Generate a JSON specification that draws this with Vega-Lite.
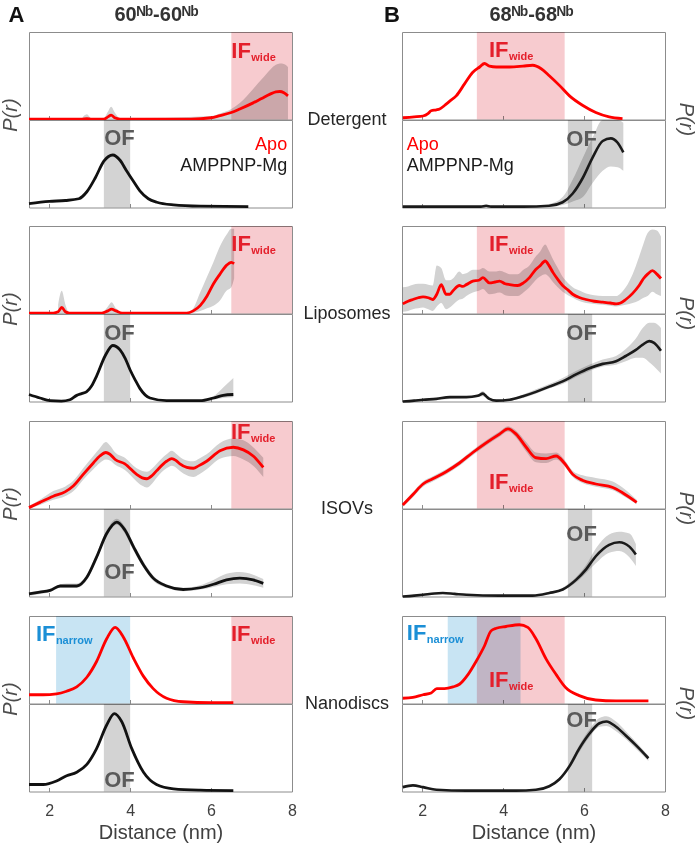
{
"$schema":"https://vega.github.io/schema/vega-lite/v6.json",
"background":"white",
"padding":{"left":0,"top":3,"right":0,"bottom":0},
"config":{
 "font":"Liberation Sans",
 "view":{"stroke":"#8c8c8c","strokeWidth":1},
 "axisY":{"disable":true},
 "axisX":{"labels":false,"domain":false,"grid":false,"tickSize":-4,"tickColor":"#8c8c8c","tickCount":3,"labelFlush":false,"labelFontSize":16,"labelColor":"#404040","titleFontSize":20,"titleColor":"#404040","titleFontWeight":"normal","labelPadding":15,"titlePadding":4},
 "style":{
  "big":{"fontSize":22,"fontWeight":"bold","align":"left","baseline":"middle"},
  "sub":{"fontSize":11,"fontWeight":"bold","align":"left","baseline":"middle","dx":20,"dy":7},
  "env":{"fontSize":18,"align":"center","baseline":"middle","color":"#262626"},
  "pr":{"fontSize":20,"fontStyle":"italic","align":"center","baseline":"middle","color":"#4d4d4d"},
  "hdr":{"fontSize":20,"fontWeight":"bold","align":"center","baseline":"middle","color":"#333333"},
  "hdrA":{"fontSize":22,"fontWeight":"bold","align":"center","baseline":"middle","color":"#111111"},
  "leg":{"fontSize":18,"baseline":"middle"}
 }
},
"data":{"name":"d"},
"datasets":{"d":[
{"p":"A1a","k":"b","x":6.5,"x2":8,"g":"IFw"},
{"p":"A1a","k":"t","x":6.5,"y":0.78,"g":"IFw","t":"IF","s":"wide"},
{"p":"A1a","k":"c","x":1.5,"y":0.005},
{"p":"A1a","k":"c","x":2.0,"y":0.005},
{"p":"A1a","k":"c","x":2.8,"y":0.005,"lo":0,"hi":0.01},
{"p":"A1a","k":"c","x":2.93,"y":0.01,"lo":0,"hi":0.06},
{"p":"A1a","k":"c","x":3.05,"y":0.005,"lo":0,"hi":0.01},
{"p":"A1a","k":"c","x":3.35,"y":0.005,"lo":0,"hi":0.02},
{"p":"A1a","k":"c","x":3.45,"y":0.03,"lo":0,"hi":0.09},
{"p":"A1a","k":"c","x":3.53,"y":0.05,"lo":0,"hi":0.145},
{"p":"A1a","k":"c","x":3.62,"y":0.02,"lo":0,"hi":0.08},
{"p":"A1a","k":"c","x":3.75,"y":0.005,"lo":0,"hi":0.015},
{"p":"A1a","k":"c","x":4.5,"y":0.005},
{"p":"A1a","k":"c","x":5.5,"y":0.005},
{"p":"A1a","k":"c","x":6.0,"y":0.02,"lo":0,"hi":0.04},
{"p":"A1a","k":"c","x":6.22,"y":0.045,"lo":0,"hi":0.07},
{"p":"A1a","k":"c","x":6.5,"y":0.08,"lo":0,"hi":0.12},
{"p":"A1a","k":"c","x":6.71,"y":0.12,"lo":0,"hi":0.19},
{"p":"A1a","k":"c","x":7.04,"y":0.19,"lo":0,"hi":0.35},
{"p":"A1a","k":"c","x":7.25,"y":0.24,"lo":0,"hi":0.46},
{"p":"A1a","k":"c","x":7.46,"y":0.29,"lo":0,"hi":0.57},
{"p":"A1a","k":"c","x":7.6,"y":0.315,"lo":0,"hi":0.625},
{"p":"A1a","k":"c","x":7.7,"y":0.32,"lo":0,"hi":0.64},
{"p":"A1a","k":"c","x":7.8,"y":0.305,"lo":0,"hi":0.635},
{"p":"A1a","k":"c","x":7.9,"y":0.27,"lo":0,"hi":0.6},

{"p":"A1b","k":"b","x":3.35,"x2":4.0,"g":"OF"},
{"p":"A1b","k":"t","x":3.36,"y":0.79,"g":"OF","t":"OF"},
{"p":"A1b","k":"c","x":1.5,"y":0.045},
{"p":"A1b","k":"c","x":2.0,"y":0.07},
{"p":"A1b","k":"c","x":2.4,"y":0.08},
{"p":"A1b","k":"c","x":2.73,"y":0.1},
{"p":"A1b","k":"c","x":2.93,"y":0.18},
{"p":"A1b","k":"c","x":3.14,"y":0.34},
{"p":"A1b","k":"c","x":3.35,"y":0.53},
{"p":"A1b","k":"c","x":3.57,"y":0.6},
{"p":"A1b","k":"c","x":3.75,"y":0.54},
{"p":"A1b","k":"c","x":3.91,"y":0.42},
{"p":"A1b","k":"c","x":4.08,"y":0.3},
{"p":"A1b","k":"c","x":4.24,"y":0.19},
{"p":"A1b","k":"c","x":4.45,"y":0.1},
{"p":"A1b","k":"c","x":4.66,"y":0.06},
{"p":"A1b","k":"c","x":5.07,"y":0.03},
{"p":"A1b","k":"c","x":5.73,"y":0.015},
{"p":"A1b","k":"c","x":6.92,"y":0.01},

{"p":"B1a","k":"b","x":3.35,"x2":5.52,"g":"IFw"},
{"p":"B1a","k":"t","x":3.65,"y":0.79,"g":"IFw","t":"IF","s":"wide"},
{"p":"B1a","k":"c","x":1.52,"y":0.02},
{"p":"B1a","k":"c","x":1.8,"y":0.03},
{"p":"B1a","k":"c","x":2.02,"y":0.04},
{"p":"B1a","k":"c","x":2.15,"y":0.07},
{"p":"B1a","k":"c","x":2.22,"y":0.1},
{"p":"B1a","k":"c","x":2.35,"y":0.11},
{"p":"B1a","k":"c","x":2.43,"y":0.12},
{"p":"B1a","k":"c","x":2.55,"y":0.16},
{"p":"B1a","k":"c","x":2.68,"y":0.21},
{"p":"B1a","k":"c","x":2.84,"y":0.27},
{"p":"B1a","k":"c","x":3.05,"y":0.41},
{"p":"B1a","k":"c","x":3.25,"y":0.54},
{"p":"B1a","k":"c","x":3.42,"y":0.6},
{"p":"B1a","k":"c","x":3.54,"y":0.64},
{"p":"B1a","k":"c","x":3.66,"y":0.61},
{"p":"B1a","k":"c","x":3.83,"y":0.6},
{"p":"B1a","k":"c","x":4.16,"y":0.6},
{"p":"B1a","k":"c","x":4.49,"y":0.61},
{"p":"B1a","k":"c","x":4.73,"y":0.62},
{"p":"B1a","k":"c","x":4.94,"y":0.58},
{"p":"B1a","k":"c","x":5.14,"y":0.5},
{"p":"B1a","k":"c","x":5.39,"y":0.39},
{"p":"B1a","k":"c","x":5.64,"y":0.27},
{"p":"B1a","k":"c","x":5.97,"y":0.16},
{"p":"B1a","k":"c","x":6.29,"y":0.08},
{"p":"B1a","k":"c","x":6.62,"y":0.03},
{"p":"B1a","k":"c","x":6.95,"y":0.01},

{"p":"B1b","k":"b","x":5.6,"x2":6.2,"g":"OF"},
{"p":"B1b","k":"t","x":5.56,"y":0.78,"g":"OF","t":"OF"},
{"p":"B1b","k":"c","x":1.52,"y":0.01},
{"p":"B1b","k":"c","x":2.5,"y":0.01},
{"p":"B1b","k":"c","x":3.45,"y":0.01},
{"p":"B1b","k":"c","x":3.58,"y":0.02},
{"p":"B1b","k":"c","x":3.7,"y":0.01},
{"p":"B1b","k":"c","x":4.5,"y":0.01},
{"p":"B1b","k":"c","x":5.14,"y":0.02,"lo":0.01,"hi":0.04},
{"p":"B1b","k":"c","x":5.47,"y":0.06,"lo":0.03,"hi":0.12},
{"p":"B1b","k":"c","x":5.72,"y":0.16,"lo":0.07,"hi":0.32},
{"p":"B1b","k":"c","x":5.97,"y":0.34,"lo":0.12,"hi":0.57},
{"p":"B1b","k":"c","x":6.21,"y":0.57,"lo":0.28,"hi":0.8},
{"p":"B1b","k":"c","x":6.46,"y":0.76,"lo":0.42,"hi":1.0},
{"p":"B1b","k":"c","x":6.66,"y":0.79,"lo":0.47,"hi":1.0},
{"p":"B1b","k":"c","x":6.83,"y":0.74,"lo":0.46,"hi":1.0},
{"p":"B1b","k":"c","x":6.97,"y":0.63,"lo":0.42,"hi":0.97},

{"p":"A2a","k":"b","x":6.5,"x2":8,"g":"IFw"},
{"p":"A2a","k":"t","x":6.5,"y":0.8,"g":"IFw","t":"IF","s":"wide"},
{"p":"A2a","k":"c","x":1.5,"y":0.005},
{"p":"A2a","k":"c","x":2.1,"y":0.005},
{"p":"A2a","k":"c","x":2.22,"y":0.02,"lo":0,"hi":0.1},
{"p":"A2a","k":"c","x":2.31,"y":0.07,"lo":0,"hi":0.26},
{"p":"A2a","k":"c","x":2.4,"y":0.02,"lo":0,"hi":0.1},
{"p":"A2a","k":"c","x":2.5,"y":0.005,"lo":0,"hi":0.01},
{"p":"A2a","k":"c","x":3.3,"y":0.005,"lo":0,"hi":0.01},
{"p":"A2a","k":"c","x":3.45,"y":0.03,"lo":0,"hi":0.08},
{"p":"A2a","k":"c","x":3.54,"y":0.05,"lo":0,"hi":0.13},
{"p":"A2a","k":"c","x":3.65,"y":0.03,"lo":0,"hi":0.06},
{"p":"A2a","k":"c","x":3.8,"y":0.005,"lo":0,"hi":0.01},
{"p":"A2a","k":"c","x":5.4,"y":0.005,"lo":0,"hi":0.01},
{"p":"A2a","k":"c","x":5.56,"y":0.03,"lo":0.01,"hi":0.06},
{"p":"A2a","k":"c","x":5.73,"y":0.09,"lo":0.03,"hi":0.24},
{"p":"A2a","k":"c","x":5.9,"y":0.2,"lo":0.06,"hi":0.42},
{"p":"A2a","k":"c","x":6.06,"y":0.34,"lo":0.09,"hi":0.59},
{"p":"A2a","k":"c","x":6.22,"y":0.45,"lo":0.15,"hi":0.77},
{"p":"A2a","k":"c","x":6.38,"y":0.55,"lo":0.26,"hi":0.9},
{"p":"A2a","k":"c","x":6.5,"y":0.585,"lo":0.3,"hi":0.97},
{"p":"A2a","k":"c","x":6.57,"y":0.57,"lo":0.4,"hi":0.97},

{"p":"A2b","k":"b","x":3.35,"x2":4.0,"g":"OF"},
{"p":"A2b","k":"t","x":3.36,"y":0.78,"g":"OF","t":"OF"},
{"p":"A2b","k":"c","x":1.5,"y":0.08},
{"p":"A2b","k":"c","x":1.77,"y":0.04},
{"p":"A2b","k":"c","x":2.02,"y":0.01},
{"p":"A2b","k":"c","x":2.3,"y":0.005},
{"p":"A2b","k":"c","x":2.51,"y":0.02},
{"p":"A2b","k":"c","x":2.68,"y":0.07},
{"p":"A2b","k":"c","x":2.8,"y":0.09},
{"p":"A2b","k":"c","x":2.92,"y":0.11},
{"p":"A2b","k":"c","x":3.05,"y":0.18},
{"p":"A2b","k":"c","x":3.17,"y":0.29},
{"p":"A2b","k":"c","x":3.38,"y":0.52},
{"p":"A2b","k":"c","x":3.57,"y":0.64},
{"p":"A2b","k":"c","x":3.75,"y":0.59},
{"p":"A2b","k":"c","x":3.88,"y":0.49},
{"p":"A2b","k":"c","x":4.0,"y":0.36},
{"p":"A2b","k":"c","x":4.12,"y":0.25},
{"p":"A2b","k":"c","x":4.24,"y":0.15},
{"p":"A2b","k":"c","x":4.49,"y":0.04},
{"p":"A2b","k":"c","x":4.9,"y":0.01},
{"p":"A2b","k":"c","x":5.73,"y":0.01,"lo":0,"hi":0.02},
{"p":"A2b","k":"c","x":6.06,"y":0.04,"lo":0.02,"hi":0.06},
{"p":"A2b","k":"c","x":6.3,"y":0.07,"lo":0.04,"hi":0.16},
{"p":"A2b","k":"c","x":6.55,"y":0.08,"lo":0.05,"hi":0.27},

{"p":"B2a","k":"b","x":3.35,"x2":5.52,"g":"IFw"},
{"p":"B2a","k":"t","x":3.65,"y":0.79,"g":"IFw","t":"IF","s":"wide"},
{"p":"B2a","k":"c","x":1.52,"y":0.11,"lo":0.02,"hi":0.3},
{"p":"B2a","k":"c","x":1.65,"y":0.14,"lo":0.03,"hi":0.31},
{"p":"B2a","k":"c","x":1.77,"y":0.16,"lo":0.05,"hi":0.33},
{"p":"B2a","k":"c","x":1.9,"y":0.18,"lo":0.06,"hi":0.34},
{"p":"B2a","k":"c","x":2.02,"y":0.19,"lo":0.07,"hi":0.34},
{"p":"B2a","k":"c","x":2.15,"y":0.18,"lo":0.05,"hi":0.33},
{"p":"B2a","k":"c","x":2.26,"y":0.16,"lo":0.03,"hi":0.32},
{"p":"B2a","k":"c","x":2.36,"y":0.22,"lo":0.08,"hi":0.55},
{"p":"B2a","k":"c","x":2.47,"y":0.33,"lo":0.12,"hi":0.52},
{"p":"B2a","k":"c","x":2.59,"y":0.22,"lo":0.05,"hi":0.38},
{"p":"B2a","k":"c","x":2.68,"y":0.22,"lo":0.07,"hi":0.38},
{"p":"B2a","k":"c","x":2.76,"y":0.26,"lo":0.1,"hi":0.4},
{"p":"B2a","k":"c","x":2.92,"y":0.32,"lo":0.16,"hi":0.48},
{"p":"B2a","k":"c","x":3.0,"y":0.31,"lo":0.17,"hi":0.45},
{"p":"B2a","k":"c","x":3.09,"y":0.33,"lo":0.2,"hi":0.46},
{"p":"B2a","k":"c","x":3.25,"y":0.37,"lo":0.24,"hi":0.5},
{"p":"B2a","k":"c","x":3.4,"y":0.38,"lo":0.26,"hi":0.5},
{"p":"B2a","k":"c","x":3.5,"y":0.41,"lo":0.28,"hi":0.52},
{"p":"B2a","k":"c","x":3.66,"y":0.35,"lo":0.22,"hi":0.48},
{"p":"B2a","k":"c","x":3.8,"y":0.36,"lo":0.23,"hi":0.48},
{"p":"B2a","k":"c","x":3.91,"y":0.37,"lo":0.24,"hi":0.49},
{"p":"B2a","k":"c","x":4.05,"y":0.34,"lo":0.21,"hi":0.47},
{"p":"B2a","k":"c","x":4.16,"y":0.33,"lo":0.2,"hi":0.45},
{"p":"B2a","k":"c","x":4.36,"y":0.32,"lo":0.2,"hi":0.45},
{"p":"B2a","k":"c","x":4.5,"y":0.35,"lo":0.24,"hi":0.5},
{"p":"B2a","k":"c","x":4.65,"y":0.41,"lo":0.3,"hi":0.55},
{"p":"B2a","k":"c","x":4.8,"y":0.5,"lo":0.38,"hi":0.65},
{"p":"B2a","k":"c","x":4.9,"y":0.54,"lo":0.42,"hi":0.7},
{"p":"B2a","k":"c","x":5.04,"y":0.6,"lo":0.45,"hi":0.79},
{"p":"B2a","k":"c","x":5.13,"y":0.55,"lo":0.42,"hi":0.72},
{"p":"B2a","k":"c","x":5.23,"y":0.47,"lo":0.36,"hi":0.62},
{"p":"B2a","k":"c","x":5.35,"y":0.39,"lo":0.3,"hi":0.52},
{"p":"B2a","k":"c","x":5.47,"y":0.32,"lo":0.25,"hi":0.42},
{"p":"B2a","k":"c","x":5.6,"y":0.27,"lo":0.21,"hi":0.35},
{"p":"B2a","k":"c","x":5.72,"y":0.22,"lo":0.18,"hi":0.3},
{"p":"B2a","k":"c","x":5.9,"y":0.18,"lo":0.14,"hi":0.26},
{"p":"B2a","k":"c","x":6.05,"y":0.16,"lo":0.12,"hi":0.23},
{"p":"B2a","k":"c","x":6.25,"y":0.14,"lo":0.11,"hi":0.21},
{"p":"B2a","k":"c","x":6.46,"y":0.13,"lo":0.1,"hi":0.2},
{"p":"B2a","k":"c","x":6.65,"y":0.12,"lo":0.09,"hi":0.2},
{"p":"B2a","k":"c","x":6.79,"y":0.11,"lo":0.08,"hi":0.2},
{"p":"B2a","k":"c","x":6.9,"y":0.12,"lo":0.09,"hi":0.23},
{"p":"B2a","k":"c","x":7.03,"y":0.16,"lo":0.1,"hi":0.3},
{"p":"B2a","k":"c","x":7.2,"y":0.23,"lo":0.12,"hi":0.45},
{"p":"B2a","k":"c","x":7.36,"y":0.32,"lo":0.15,"hi":0.65},
{"p":"B2a","k":"c","x":7.47,"y":0.4,"lo":0.18,"hi":0.8},
{"p":"B2a","k":"c","x":7.57,"y":0.45,"lo":0.2,"hi":0.92},
{"p":"B2a","k":"c","x":7.69,"y":0.49,"lo":0.25,"hi":0.96},
{"p":"B2a","k":"c","x":7.8,"y":0.45,"lo":0.22,"hi":0.95},
{"p":"B2a","k":"c","x":7.9,"y":0.4,"lo":0.2,"hi":0.88},

{"p":"B2b","k":"b","x":5.6,"x2":6.2,"g":"OF"},
{"p":"B2b","k":"t","x":5.56,"y":0.78,"g":"OF","t":"OF"},
{"p":"B2b","k":"c","x":1.52,"y":0.0,"lo":0,"hi":0.01},
{"p":"B2b","k":"c","x":1.8,"y":0.01,"lo":0,"hi":0.02},
{"p":"B2b","k":"c","x":2.02,"y":0.02,"lo":0.01,"hi":0.03},
{"p":"B2b","k":"c","x":2.35,"y":0.03,"lo":0.02,"hi":0.04},
{"p":"B2b","k":"c","x":2.68,"y":0.05,"lo":0.03,"hi":0.06},
{"p":"B2b","k":"c","x":3.09,"y":0.05,"lo":0.04,"hi":0.06},
{"p":"B2b","k":"c","x":3.37,"y":0.065,"lo":0.05,"hi":0.08},
{"p":"B2b","k":"c","x":3.5,"y":0.09,"lo":0.06,"hi":0.12},
{"p":"B2b","k":"c","x":3.58,"y":0.06,"lo":0.04,"hi":0.08},
{"p":"B2b","k":"c","x":3.66,"y":0.03,"lo":0.02,"hi":0.05},
{"p":"B2b","k":"c","x":3.83,"y":0.01,"lo":0,"hi":0.02},
{"p":"B2b","k":"c","x":4.16,"y":0.02,"lo":0.01,"hi":0.03},
{"p":"B2b","k":"c","x":4.49,"y":0.06,"lo":0.04,"hi":0.08},
{"p":"B2b","k":"c","x":4.81,"y":0.11,"lo":0.09,"hi":0.14},
{"p":"B2b","k":"c","x":5.14,"y":0.17,"lo":0.15,"hi":0.2},
{"p":"B2b","k":"c","x":5.47,"y":0.23,"lo":0.2,"hi":0.27},
{"p":"B2b","k":"c","x":5.8,"y":0.31,"lo":0.28,"hi":0.35},
{"p":"B2b","k":"c","x":6.13,"y":0.38,"lo":0.35,"hi":0.42},
{"p":"B2b","k":"c","x":6.46,"y":0.43,"lo":0.4,"hi":0.48},
{"p":"B2b","k":"c","x":6.79,"y":0.46,"lo":0.42,"hi":0.52},
{"p":"B2b","k":"c","x":7.03,"y":0.52,"lo":0.46,"hi":0.6},
{"p":"B2b","k":"c","x":7.28,"y":0.59,"lo":0.5,"hi":0.72},
{"p":"B2b","k":"c","x":7.45,"y":0.65,"lo":0.5,"hi":0.84},
{"p":"B2b","k":"c","x":7.61,"y":0.69,"lo":0.45,"hi":0.9},
{"p":"B2b","k":"c","x":7.73,"y":0.67,"lo":0.4,"hi":0.9},
{"p":"B2b","k":"c","x":7.9,"y":0.58,"lo":0.32,"hi":0.84},

{"p":"A3a","k":"b","x":6.5,"x2":8,"g":"IFw"},
{"p":"A3a","k":"t","x":6.49,"y":0.87,"g":"IFw","t":"IF","s":"wide"},
{"p":"A3a","k":"c","x":1.5,"y":0.01,"lo":0,"hi":0.03},
{"p":"A3a","k":"c","x":1.77,"y":0.07,"lo":0.04,"hi":0.1},
{"p":"A3a","k":"c","x":2.1,"y":0.14,"lo":0.1,"hi":0.2},
{"p":"A3a","k":"c","x":2.39,"y":0.19,"lo":0.14,"hi":0.25},
{"p":"A3a","k":"c","x":2.6,"y":0.26,"lo":0.2,"hi":0.32},
{"p":"A3a","k":"c","x":2.84,"y":0.39,"lo":0.33,"hi":0.46},
{"p":"A3a","k":"c","x":3.09,"y":0.52,"lo":0.45,"hi":0.6},
{"p":"A3a","k":"c","x":3.25,"y":0.6,"lo":0.52,"hi":0.69},
{"p":"A3a","k":"c","x":3.4,"y":0.64,"lo":0.56,"hi":0.76},
{"p":"A3a","k":"c","x":3.5,"y":0.62,"lo":0.55,"hi":0.72},
{"p":"A3a","k":"c","x":3.63,"y":0.56,"lo":0.5,"hi":0.64},
{"p":"A3a","k":"c","x":3.87,"y":0.51,"lo":0.44,"hi":0.58},
{"p":"A3a","k":"c","x":4.16,"y":0.39,"lo":0.31,"hi":0.46},
{"p":"A3a","k":"c","x":4.3,"y":0.35,"lo":0.26,"hi":0.43},
{"p":"A3a","k":"c","x":4.41,"y":0.34,"lo":0.24,"hi":0.42},
{"p":"A3a","k":"c","x":4.55,"y":0.38,"lo":0.29,"hi":0.46},
{"p":"A3a","k":"c","x":4.65,"y":0.43,"lo":0.35,"hi":0.51},
{"p":"A3a","k":"c","x":4.9,"y":0.54,"lo":0.46,"hi":0.62},
{"p":"A3a","k":"c","x":5.03,"y":0.57,"lo":0.49,"hi":0.66},
{"p":"A3a","k":"c","x":5.13,"y":0.55,"lo":0.47,"hi":0.63},
{"p":"A3a","k":"c","x":5.23,"y":0.51,"lo":0.43,"hi":0.59},
{"p":"A3a","k":"c","x":5.4,"y":0.47,"lo":0.38,"hi":0.55},
{"p":"A3a","k":"c","x":5.56,"y":0.46,"lo":0.36,"hi":0.54},
{"p":"A3a","k":"c","x":5.7,"y":0.49,"lo":0.39,"hi":0.57},
{"p":"A3a","k":"c","x":5.89,"y":0.54,"lo":0.45,"hi":0.62},
{"p":"A3a","k":"c","x":6.22,"y":0.66,"lo":0.57,"hi":0.75},
{"p":"A3a","k":"c","x":6.55,"y":0.7,"lo":0.6,"hi":0.8},
{"p":"A3a","k":"c","x":6.8,"y":0.67,"lo":0.56,"hi":0.78},
{"p":"A3a","k":"c","x":7.04,"y":0.6,"lo":0.49,"hi":0.7},
{"p":"A3a","k":"c","x":7.29,"y":0.47,"lo":0.36,"hi":0.58},

{"p":"A3b","k":"b","x":3.35,"x2":4.0,"g":"OF"},
{"p":"A3b","k":"t","x":3.36,"y":0.28,"g":"OF","t":"OF"},
{"p":"A3b","k":"c","x":1.5,"y":0.03,"lo":0.01,"hi":0.05},
{"p":"A3b","k":"c","x":1.77,"y":0.05,"lo":0.03,"hi":0.07},
{"p":"A3b","k":"c","x":2.02,"y":0.07,"lo":0.05,"hi":0.09},
{"p":"A3b","k":"c","x":2.27,"y":0.12,"lo":0.1,"hi":0.14},
{"p":"A3b","k":"c","x":2.43,"y":0.12,"lo":0.1,"hi":0.15},
{"p":"A3b","k":"c","x":2.68,"y":0.12,"lo":0.1,"hi":0.15},
{"p":"A3b","k":"c","x":2.93,"y":0.22,"lo":0.19,"hi":0.25},
{"p":"A3b","k":"c","x":3.17,"y":0.45,"lo":0.42,"hi":0.49},
{"p":"A3b","k":"c","x":3.42,"y":0.72,"lo":0.69,"hi":0.76},
{"p":"A3b","k":"c","x":3.67,"y":0.85,"lo":0.82,"hi":0.89},
{"p":"A3b","k":"c","x":3.87,"y":0.76,"lo":0.72,"hi":0.8},
{"p":"A3b","k":"c","x":4.08,"y":0.57,"lo":0.53,"hi":0.61},
{"p":"A3b","k":"c","x":4.33,"y":0.36,"lo":0.33,"hi":0.4},
{"p":"A3b","k":"c","x":4.57,"y":0.21,"lo":0.18,"hi":0.24},
{"p":"A3b","k":"c","x":4.9,"y":0.12,"lo":0.1,"hi":0.14},
{"p":"A3b","k":"c","x":5.31,"y":0.08,"lo":0.06,"hi":0.1},
{"p":"A3b","k":"c","x":5.73,"y":0.1,"lo":0.08,"hi":0.13},
{"p":"A3b","k":"c","x":6.06,"y":0.14,"lo":0.11,"hi":0.19},
{"p":"A3b","k":"c","x":6.38,"y":0.19,"lo":0.14,"hi":0.26},
{"p":"A3b","k":"c","x":6.71,"y":0.21,"lo":0.15,"hi":0.28},
{"p":"A3b","k":"c","x":7.04,"y":0.19,"lo":0.13,"hi":0.25},
{"p":"A3b","k":"c","x":7.29,"y":0.15,"lo":0.1,"hi":0.2},

{"p":"B3a","k":"b","x":3.35,"x2":5.52,"g":"IFw"},
{"p":"B3a","k":"t","x":3.65,"y":0.3,"g":"IFw","t":"IF","s":"wide"},
{"p":"B3a","k":"c","x":1.52,"y":0.04,"lo":0.02,"hi":0.06},
{"p":"B3a","k":"c","x":1.77,"y":0.16,"lo":0.13,"hi":0.19},
{"p":"B3a","k":"c","x":2.02,"y":0.28,"lo":0.25,"hi":0.31},
{"p":"B3a","k":"c","x":2.26,"y":0.34,"lo":0.31,"hi":0.37},
{"p":"B3a","k":"c","x":2.59,"y":0.42,"lo":0.39,"hi":0.45},
{"p":"B3a","k":"c","x":2.92,"y":0.52,"lo":0.49,"hi":0.55},
{"p":"B3a","k":"c","x":3.25,"y":0.64,"lo":0.61,"hi":0.67},
{"p":"B3a","k":"c","x":3.58,"y":0.75,"lo":0.72,"hi":0.78},
{"p":"B3a","k":"c","x":3.91,"y":0.85,"lo":0.82,"hi":0.88},
{"p":"B3a","k":"c","x":4.12,"y":0.91,"lo":0.88,"hi":0.94},
{"p":"B3a","k":"c","x":4.32,"y":0.85,"lo":0.81,"hi":0.89},
{"p":"B3a","k":"c","x":4.57,"y":0.7,"lo":0.65,"hi":0.76},
{"p":"B3a","k":"c","x":4.81,"y":0.58,"lo":0.53,"hi":0.64},
{"p":"B3a","k":"c","x":5.06,"y":0.57,"lo":0.52,"hi":0.63},
{"p":"B3a","k":"c","x":5.31,"y":0.6,"lo":0.56,"hi":0.64},
{"p":"B3a","k":"c","x":5.51,"y":0.52,"lo":0.49,"hi":0.56},
{"p":"B3a","k":"c","x":5.72,"y":0.39,"lo":0.36,"hi":0.43},
{"p":"B3a","k":"c","x":5.97,"y":0.32,"lo":0.29,"hi":0.38},
{"p":"B3a","k":"c","x":6.29,"y":0.28,"lo":0.25,"hi":0.35},
{"p":"B3a","k":"c","x":6.71,"y":0.24,"lo":0.21,"hi":0.31},
{"p":"B3a","k":"c","x":6.95,"y":0.18,"lo":0.15,"hi":0.24},
{"p":"B3a","k":"c","x":7.3,"y":0.07,"lo":0.05,"hi":0.1},

{"p":"B3b","k":"b","x":5.6,"x2":6.2,"g":"OF"},
{"p":"B3b","k":"t","x":5.56,"y":0.71,"g":"OF","t":"OF"},
{"p":"B3b","k":"c","x":1.52,"y":0.0},
{"p":"B3b","k":"c","x":1.8,"y":0.01},
{"p":"B3b","k":"c","x":2.02,"y":0.02},
{"p":"B3b","k":"c","x":2.3,"y":0.035},
{"p":"B3b","k":"c","x":2.51,"y":0.04},
{"p":"B3b","k":"c","x":2.8,"y":0.03},
{"p":"B3b","k":"c","x":3.09,"y":0.02},
{"p":"B3b","k":"c","x":3.91,"y":0.01},
{"p":"B3b","k":"c","x":4.73,"y":0.01},
{"p":"B3b","k":"c","x":5.14,"y":0.04},
{"p":"B3b","k":"c","x":5.47,"y":0.08,"lo":0.06,"hi":0.1},
{"p":"B3b","k":"c","x":5.8,"y":0.19,"lo":0.16,"hi":0.22},
{"p":"B3b","k":"c","x":6.05,"y":0.31,"lo":0.27,"hi":0.36},
{"p":"B3b","k":"c","x":6.29,"y":0.46,"lo":0.38,"hi":0.55},
{"p":"B3b","k":"c","x":6.62,"y":0.59,"lo":0.5,"hi":0.71},
{"p":"B3b","k":"c","x":6.87,"y":0.62,"lo":0.52,"hi":0.74},
{"p":"B3b","k":"c","x":7.12,"y":0.57,"lo":0.45,"hi":0.72},
{"p":"B3b","k":"c","x":7.28,"y":0.48,"lo":0.35,"hi":0.6},

{"p":"A4a","k":"b","x":2.17,"x2":4.0,"g":"IFn"},
{"p":"A4a","k":"b","x":6.5,"x2":8,"g":"IFw"},
{"p":"A4a","k":"t","x":1.67,"y":0.8,"g":"IFn","t":"IF","s":"narrow"},
{"p":"A4a","k":"t","x":6.49,"y":0.8,"g":"IFw","t":"IF","s":"wide"},
{"p":"A4a","k":"c","x":1.5,"y":0.1},
{"p":"A4a","k":"c","x":1.85,"y":0.1},
{"p":"A4a","k":"c","x":2.18,"y":0.11},
{"p":"A4a","k":"c","x":2.43,"y":0.14},
{"p":"A4a","k":"c","x":2.68,"y":0.19},
{"p":"A4a","k":"c","x":2.93,"y":0.3},
{"p":"A4a","k":"c","x":3.17,"y":0.48},
{"p":"A4a","k":"c","x":3.42,"y":0.74},
{"p":"A4a","k":"c","x":3.63,"y":0.87},
{"p":"A4a","k":"c","x":3.83,"y":0.76},
{"p":"A4a","k":"c","x":4.08,"y":0.52},
{"p":"A4a","k":"c","x":4.33,"y":0.31},
{"p":"A4a","k":"c","x":4.57,"y":0.17},
{"p":"A4a","k":"c","x":4.9,"y":0.06},
{"p":"A4a","k":"c","x":5.31,"y":0.02},
{"p":"A4a","k":"c","x":6.0,"y":0.01},
{"p":"A4a","k":"c","x":6.55,"y":0.01},

{"p":"A4b","k":"b","x":3.35,"x2":4.0,"g":"OF"},
{"p":"A4b","k":"t","x":3.36,"y":0.13,"g":"OF","t":"OF"},
{"p":"A4b","k":"c","x":1.5,"y":0.08},
{"p":"A4b","k":"c","x":1.85,"y":0.08},
{"p":"A4b","k":"c","x":2.18,"y":0.12},
{"p":"A4b","k":"c","x":2.43,"y":0.18},
{"p":"A4b","k":"c","x":2.68,"y":0.22},
{"p":"A4b","k":"c","x":2.93,"y":0.31},
{"p":"A4b","k":"c","x":3.17,"y":0.49},
{"p":"A4b","k":"c","x":3.42,"y":0.76},
{"p":"A4b","k":"c","x":3.61,"y":0.89},
{"p":"A4b","k":"c","x":3.79,"y":0.8},
{"p":"A4b","k":"c","x":4.04,"y":0.49},
{"p":"A4b","k":"c","x":4.33,"y":0.22},
{"p":"A4b","k":"c","x":4.65,"y":0.08},
{"p":"A4b","k":"c","x":5.07,"y":0.03},
{"p":"A4b","k":"c","x":5.73,"y":0.015},
{"p":"A4b","k":"c","x":6.55,"y":0.01},

{"p":"B4a","k":"b","x":2.63,"x2":4.43,"g":"IFn"},
{"p":"B4a","k":"b","x":3.35,"x2":5.52,"g":"IFw"},
{"p":"B4a","k":"t","x":1.62,"y":0.81,"g":"IFn","t":"IF","s":"narrow"},
{"p":"B4a","k":"t","x":3.65,"y":0.27,"g":"IFw","t":"IF","s":"wide"},
{"p":"B4a","k":"c","x":1.52,"y":0.06},
{"p":"B4a","k":"c","x":1.77,"y":0.07},
{"p":"B4a","k":"c","x":2.02,"y":0.1},
{"p":"B4a","k":"c","x":2.22,"y":0.12},
{"p":"B4a","k":"c","x":2.36,"y":0.17},
{"p":"B4a","k":"c","x":2.55,"y":0.17},
{"p":"B4a","k":"c","x":2.76,"y":0.19},
{"p":"B4a","k":"c","x":2.92,"y":0.22},
{"p":"B4a","k":"c","x":3.13,"y":0.33},
{"p":"B4a","k":"c","x":3.33,"y":0.48},
{"p":"B4a","k":"c","x":3.54,"y":0.66},
{"p":"B4a","k":"c","x":3.7,"y":0.83},
{"p":"B4a","k":"c","x":3.83,"y":0.86},
{"p":"B4a","k":"c","x":4.07,"y":0.88},
{"p":"B4a","k":"c","x":4.4,"y":0.9},
{"p":"B4a","k":"c","x":4.61,"y":0.87},
{"p":"B4a","k":"c","x":4.81,"y":0.74},
{"p":"B4a","k":"c","x":5.06,"y":0.51},
{"p":"B4a","k":"c","x":5.31,"y":0.33},
{"p":"B4a","k":"c","x":5.55,"y":0.18},
{"p":"B4a","k":"c","x":5.88,"y":0.09},
{"p":"B4a","k":"c","x":6.29,"y":0.04},
{"p":"B4a","k":"c","x":6.79,"y":0.03},
{"p":"B4a","k":"c","x":7.59,"y":0.03},

{"p":"B4b","k":"b","x":5.6,"x2":6.2,"g":"OF"},
{"p":"B4b","k":"t","x":5.56,"y":0.82,"g":"OF","t":"OF"},
{"p":"B4b","k":"c","x":1.52,"y":0.05},
{"p":"B4b","k":"c","x":1.77,"y":0.07},
{"p":"B4b","k":"c","x":2.02,"y":0.05},
{"p":"B4b","k":"c","x":2.35,"y":0.02},
{"p":"B4b","k":"c","x":3.09,"y":0.01},
{"p":"B4b","k":"c","x":4.32,"y":0.01},
{"p":"B4b","k":"c","x":4.81,"y":0.02},
{"p":"B4b","k":"c","x":5.14,"y":0.06,"lo":0.05,"hi":0.07},
{"p":"B4b","k":"c","x":5.39,"y":0.14,"lo":0.12,"hi":0.16},
{"p":"B4b","k":"c","x":5.64,"y":0.29,"lo":0.26,"hi":0.32},
{"p":"B4b","k":"c","x":5.88,"y":0.49,"lo":0.45,"hi":0.53},
{"p":"B4b","k":"c","x":6.13,"y":0.66,"lo":0.62,"hi":0.71},
{"p":"B4b","k":"c","x":6.38,"y":0.78,"lo":0.74,"hi":0.84},
{"p":"B4b","k":"c","x":6.55,"y":0.8,"lo":0.75,"hi":0.86},
{"p":"B4b","k":"c","x":6.79,"y":0.74,"lo":0.69,"hi":0.8},
{"p":"B4b","k":"c","x":7.03,"y":0.64,"lo":0.6,"hi":0.69},
{"p":"B4b","k":"c","x":7.28,"y":0.53,"lo":0.49,"hi":0.57},
{"p":"B4b","k":"c","x":7.59,"y":0.38,"lo":0.35,"hi":0.41}
]},
"vconcat":[
{"concat":[
 {"width":263,"height":87.5,"transform":[{"filter":"datum.p=='A1a'"}],
  "layer":[
   {"transform":[{"filter":"datum.k=='b'"}],"mark":{"type":"rect","blend":"multiply"},"encoding":{"x":{"field":"x","type":"quantitative","scale":{"domain":[1.5,8],"nice":false},"title":null},"x2":{"field":"x2"},"y":{"datum":0,"type":"quantitative","scale":{"domain":[0,1]}},"y2":{"datum":1},"fill":{"field":"g","type":"nominal","scale":{"domain":["IFw","IFn","OF"],"range":["#f7cbcf","#c8e4f3","#d3d3d3"]},"legend":null}}},
   {"transform":[{"filter":"datum.k=='c' && isValid(datum.hi)"}],"mark":{"type":"area","color":"#d2d2d2","blend":"multiply","interpolate":"monotone"},"encoding":{"x":{"field":"x","type":"quantitative","scale":{"domain":[1.5,8],"nice":false},"title":null},"y":{"field":"lo","type":"quantitative","scale":{"domain":[0,1]}},"y2":{"field":"hi"}}},
   {"transform":[{"filter":"datum.k=='c'"}],"mark":{"type":"line","color":"#ff0000","strokeWidth":2.8,"interpolate":"monotone"},"encoding":{"x":{"field":"x","type":"quantitative","scale":{"domain":[1.5,8],"nice":false},"title":null},"y":{"field":"y","type":"quantitative","scale":{"domain":[0,1]}}}},
   {"transform":[{"filter":"datum.k=='t'"}],"mark":{"type":"text","style":"big"},"encoding":{"x":{"field":"x","type":"quantitative","scale":{"domain":[1.5,8],"nice":false},"title":null},"y":{"field":"y","type":"quantitative","scale":{"domain":[0,1]}},"text":{"field":"t"},"color":{"field":"g","type":"nominal","scale":{"domain":["IFw","IFn","OF"],"range":["#e41f2b","#1b8fd6","#5a5a5a"]},"legend":null}}},
   {"transform":[{"filter":"datum.k=='t' && isValid(datum.s)"}],"mark":{"type":"text","style":"sub"},"encoding":{"x":{"field":"x","type":"quantitative","scale":{"domain":[1.5,8],"nice":false},"title":null},"y":{"field":"y","type":"quantitative","scale":{"domain":[0,1]}},"text":{"field":"s"},"color":{"field":"g","type":"nominal","scale":{"domain":["IFw","IFn","OF"],"range":["#e41f2b","#1b8fd6","#5a5a5a"]},"legend":null}}},
   {"data":{"values":[{"p":"A1a"}]},"mark":{"type":"text","style":"env","text":"Detergent"},"encoding":{"x":{"datum":9.36,"type":"quantitative"},"y":{"datum":0,"type":"quantitative"}}},
   {"data":{"values":[{"p":"A1a"}]},"mark":{"type":"text","style":"pr","text":"P(r)","angle":270},"encoding":{"x":{"datum":1.055,"type":"quantitative"},"y":{"datum":0.05,"type":"quantitative"}}},
   {"data":{"values":[{"p":"A1a"}]},"mark":{"type":"text","style":"hdrA","text":"A"},"encoding":{"x":{"datum":1.19,"type":"quantitative"},"y":{"datum":1.19,"type":"quantitative"}}},
   {"data":{"values":[{"p":"A1a"}]},"mark":{"type":"text","style":"hdr","text":"60ᴺᵇ-60ᴺᵇ"},"encoding":{"x":{"datum":4.65,"type":"quantitative"},"y":{"datum":1.19,"type":"quantitative"}}}
  ]},
 {"width":263,"height":87.5,"transform":[{"filter":"datum.p=='B1a'"}],
  "layer":[
   {"transform":[{"filter":"datum.k=='b'"}],"mark":{"type":"rect","blend":"multiply"},"encoding":{"x":{"field":"x","type":"quantitative","scale":{"domain":[1.5,8],"nice":false},"title":null},"x2":{"field":"x2"},"y":{"datum":0,"type":"quantitative","scale":{"domain":[0,1]}},"y2":{"datum":1},"fill":{"field":"g","type":"nominal","scale":{"domain":["IFw","IFn","OF"],"range":["#f7cbcf","#c8e4f3","#d3d3d3"]},"legend":null}}},
   {"transform":[{"filter":"datum.k=='c' && isValid(datum.hi)"}],"mark":{"type":"area","color":"#d2d2d2","blend":"multiply","interpolate":"monotone"},"encoding":{"x":{"field":"x","type":"quantitative","scale":{"domain":[1.5,8],"nice":false},"title":null},"y":{"field":"lo","type":"quantitative","scale":{"domain":[0,1]}},"y2":{"field":"hi"}}},
   {"transform":[{"filter":"datum.k=='c'"}],"mark":{"type":"line","color":"#ff0000","strokeWidth":2.8,"interpolate":"monotone"},"encoding":{"x":{"field":"x","type":"quantitative","scale":{"domain":[1.5,8],"nice":false},"title":null},"y":{"field":"y","type":"quantitative","scale":{"domain":[0,1]}}}},
   {"transform":[{"filter":"datum.k=='t'"}],"mark":{"type":"text","style":"big"},"encoding":{"x":{"field":"x","type":"quantitative","scale":{"domain":[1.5,8],"nice":false},"title":null},"y":{"field":"y","type":"quantitative","scale":{"domain":[0,1]}},"text":{"field":"t"},"color":{"field":"g","type":"nominal","scale":{"domain":["IFw","IFn","OF"],"range":["#e41f2b","#1b8fd6","#5a5a5a"]},"legend":null}}},
   {"transform":[{"filter":"datum.k=='t' && isValid(datum.s)"}],"mark":{"type":"text","style":"sub"},"encoding":{"x":{"field":"x","type":"quantitative","scale":{"domain":[1.5,8],"nice":false},"title":null},"y":{"field":"y","type":"quantitative","scale":{"domain":[0,1]}},"text":{"field":"s"},"color":{"field":"g","type":"nominal","scale":{"domain":["IFw","IFn","OF"],"range":["#e41f2b","#1b8fd6","#5a5a5a"]},"legend":null}}},
   {"data":{"values":[{"p":"B1a"}]},"mark":{"type":"text","style":"pr","text":"P(r)","angle":90},"encoding":{"x":{"datum":8.52,"type":"quantitative"},"y":{"datum":0,"type":"quantitative"}}},
   {"data":{"values":[{"p":"B1a"}]},"mark":{"type":"text","style":"hdrA","text":"B"},"encoding":{"x":{"datum":1.25,"type":"quantitative"},"y":{"datum":1.19,"type":"quantitative"}}},
   {"data":{"values":[{"p":"B1a"}]},"mark":{"type":"text","style":"hdr","text":"68ᴺᵇ-68ᴺᵇ"},"encoding":{"x":{"datum":4.7,"type":"quantitative"},"y":{"datum":1.19,"type":"quantitative"}}}
  ]},
 {"width":263,"height":87.5,"transform":[{"filter":"datum.p=='A1b'"}],
  "layer":[
   {"transform":[{"filter":"datum.k=='b'"}],"mark":{"type":"rect","blend":"multiply"},"encoding":{"x":{"field":"x","type":"quantitative","scale":{"domain":[1.5,8],"nice":false},"title":null},"x2":{"field":"x2"},"y":{"datum":0,"type":"quantitative","scale":{"domain":[0,1]}},"y2":{"datum":1},"fill":{"field":"g","type":"nominal","scale":{"domain":["IFw","IFn","OF"],"range":["#f7cbcf","#c8e4f3","#d3d3d3"]},"legend":null}}},
   {"transform":[{"filter":"datum.k=='c' && isValid(datum.hi)"}],"mark":{"type":"area","color":"#d2d2d2","blend":"multiply","interpolate":"monotone"},"encoding":{"x":{"field":"x","type":"quantitative","scale":{"domain":[1.5,8],"nice":false},"title":null},"y":{"field":"lo","type":"quantitative","scale":{"domain":[0,1]}},"y2":{"field":"hi"}}},
   {"transform":[{"filter":"datum.k=='c'"}],"mark":{"type":"line","color":"#111111","strokeWidth":2.8,"interpolate":"monotone"},"encoding":{"x":{"field":"x","type":"quantitative","scale":{"domain":[1.5,8],"nice":false},"title":null},"y":{"field":"y","type":"quantitative","scale":{"domain":[0,1]}}}},
   {"transform":[{"filter":"datum.k=='t'"}],"mark":{"type":"text","style":"big"},"encoding":{"x":{"field":"x","type":"quantitative","scale":{"domain":[1.5,8],"nice":false},"title":null},"y":{"field":"y","type":"quantitative","scale":{"domain":[0,1]}},"text":{"field":"t"},"color":{"field":"g","type":"nominal","scale":{"domain":["IFw","IFn","OF"],"range":["#e41f2b","#1b8fd6","#5a5a5a"]},"legend":null}}},
   {"data":{"values":[{"p":"A1b"}]},"mark":{"type":"text","style":"leg","text":"Apo","align":"right","color":"#ff0000"},"encoding":{"x":{"datum":7.88,"type":"quantitative"},"y":{"datum":0.71,"type":"quantitative"}}},
   {"data":{"values":[{"p":"A1b"}]},"mark":{"type":"text","style":"leg","text":"AMPPNP-Mg","align":"right","color":"#1a1a1a"},"encoding":{"x":{"datum":7.88,"type":"quantitative"},"y":{"datum":0.47,"type":"quantitative"}}}
  ]},
 {"width":263,"height":87.5,"transform":[{"filter":"datum.p=='B1b'"}],
  "layer":[
   {"transform":[{"filter":"datum.k=='b'"}],"mark":{"type":"rect","blend":"multiply"},"encoding":{"x":{"field":"x","type":"quantitative","scale":{"domain":[1.5,8],"nice":false},"title":null},"x2":{"field":"x2"},"y":{"datum":0,"type":"quantitative","scale":{"domain":[0,1]}},"y2":{"datum":1},"fill":{"field":"g","type":"nominal","scale":{"domain":["IFw","IFn","OF"],"range":["#f7cbcf","#c8e4f3","#d3d3d3"]},"legend":null}}},
   {"transform":[{"filter":"datum.k=='c' && isValid(datum.hi)"}],"mark":{"type":"area","color":"#d2d2d2","blend":"multiply","interpolate":"monotone"},"encoding":{"x":{"field":"x","type":"quantitative","scale":{"domain":[1.5,8],"nice":false},"title":null},"y":{"field":"lo","type":"quantitative","scale":{"domain":[0,1]}},"y2":{"field":"hi"}}},
   {"transform":[{"filter":"datum.k=='c'"}],"mark":{"type":"line","color":"#1a1a1a","strokeWidth":2.6,"interpolate":"monotone"},"encoding":{"x":{"field":"x","type":"quantitative","scale":{"domain":[1.5,8],"nice":false},"title":null},"y":{"field":"y","type":"quantitative","scale":{"domain":[0,1]}}}},
   {"transform":[{"filter":"datum.k=='t'"}],"mark":{"type":"text","style":"big"},"encoding":{"x":{"field":"x","type":"quantitative","scale":{"domain":[1.5,8],"nice":false},"title":null},"y":{"field":"y","type":"quantitative","scale":{"domain":[0,1]}},"text":{"field":"t"},"color":{"field":"g","type":"nominal","scale":{"domain":["IFw","IFn","OF"],"range":["#e41f2b","#1b8fd6","#5a5a5a"]},"legend":null}}},
   {"data":{"values":[{"p":"B1b"}]},"mark":{"type":"text","style":"leg","text":"Apo","align":"left","color":"#ff0000"},"encoding":{"x":{"datum":1.62,"type":"quantitative"},"y":{"datum":0.72,"type":"quantitative"}}},
   {"data":{"values":[{"p":"B1b"}]},"mark":{"type":"text","style":"leg","text":"AMPPNP-Mg","align":"left","color":"#1a1a1a"},"encoding":{"x":{"datum":1.62,"type":"quantitative"},"y":{"datum":0.48,"type":"quantitative"}}}
  ]}
],"columns":2,"spacing":{"row":0,"column":110},"bounds":"flush"},
{"concat":[
 {"width":263,"height":87.5,"transform":[{"filter":"datum.p=='A2a'"}],
  "layer":[
   {"transform":[{"filter":"datum.k=='b'"}],"mark":{"type":"rect","blend":"multiply"},"encoding":{"x":{"field":"x","type":"quantitative","scale":{"domain":[1.5,8],"nice":false},"title":null},"x2":{"field":"x2"},"y":{"datum":0,"type":"quantitative","scale":{"domain":[0,1]}},"y2":{"datum":1},"fill":{"field":"g","type":"nominal","scale":{"domain":["IFw","IFn","OF"],"range":["#f7cbcf","#c8e4f3","#d3d3d3"]},"legend":null}}},
   {"transform":[{"filter":"datum.k=='c' && isValid(datum.hi)"}],"mark":{"type":"area","color":"#d2d2d2","blend":"multiply","interpolate":"monotone"},"encoding":{"x":{"field":"x","type":"quantitative","scale":{"domain":[1.5,8],"nice":false},"title":null},"y":{"field":"lo","type":"quantitative","scale":{"domain":[0,1]}},"y2":{"field":"hi"}}},
   {"transform":[{"filter":"datum.k=='c'"}],"mark":{"type":"line","color":"#ff0000","strokeWidth":2.8,"interpolate":"monotone"},"encoding":{"x":{"field":"x","type":"quantitative","scale":{"domain":[1.5,8],"nice":false},"title":null},"y":{"field":"y","type":"quantitative","scale":{"domain":[0,1]}}}},
   {"transform":[{"filter":"datum.k=='t'"}],"mark":{"type":"text","style":"big"},"encoding":{"x":{"field":"x","type":"quantitative","scale":{"domain":[1.5,8],"nice":false},"title":null},"y":{"field":"y","type":"quantitative","scale":{"domain":[0,1]}},"text":{"field":"t"},"color":{"field":"g","type":"nominal","scale":{"domain":["IFw","IFn","OF"],"range":["#e41f2b","#1b8fd6","#5a5a5a"]},"legend":null}}},
   {"transform":[{"filter":"datum.k=='t' && isValid(datum.s)"}],"mark":{"type":"text","style":"sub"},"encoding":{"x":{"field":"x","type":"quantitative","scale":{"domain":[1.5,8],"nice":false},"title":null},"y":{"field":"y","type":"quantitative","scale":{"domain":[0,1]}},"text":{"field":"s"},"color":{"field":"g","type":"nominal","scale":{"domain":["IFw","IFn","OF"],"range":["#e41f2b","#1b8fd6","#5a5a5a"]},"legend":null}}},
   {"data":{"values":[{"p":"A2a"}]},"mark":{"type":"text","style":"env","text":"Liposomes"},"encoding":{"x":{"datum":9.36,"type":"quantitative"},"y":{"datum":0,"type":"quantitative"}}},
   {"data":{"values":[{"p":"A2a"}]},"mark":{"type":"text","style":"pr","text":"P(r)","angle":270},"encoding":{"x":{"datum":1.055,"type":"quantitative"},"y":{"datum":0.05,"type":"quantitative"}}}
  ]},
 {"width":263,"height":87.5,"transform":[{"filter":"datum.p=='B2a'"}],
  "layer":[
   {"transform":[{"filter":"datum.k=='b'"}],"mark":{"type":"rect","blend":"multiply"},"encoding":{"x":{"field":"x","type":"quantitative","scale":{"domain":[1.5,8],"nice":false},"title":null},"x2":{"field":"x2"},"y":{"datum":0,"type":"quantitative","scale":{"domain":[0,1]}},"y2":{"datum":1},"fill":{"field":"g","type":"nominal","scale":{"domain":["IFw","IFn","OF"],"range":["#f7cbcf","#c8e4f3","#d3d3d3"]},"legend":null}}},
   {"transform":[{"filter":"datum.k=='c' && isValid(datum.hi)"}],"mark":{"type":"area","color":"#d2d2d2","blend":"multiply","interpolate":"monotone"},"encoding":{"x":{"field":"x","type":"quantitative","scale":{"domain":[1.5,8],"nice":false},"title":null},"y":{"field":"lo","type":"quantitative","scale":{"domain":[0,1]}},"y2":{"field":"hi"}}},
   {"transform":[{"filter":"datum.k=='c'"}],"mark":{"type":"line","color":"#ff0000","strokeWidth":2.8,"interpolate":"monotone"},"encoding":{"x":{"field":"x","type":"quantitative","scale":{"domain":[1.5,8],"nice":false},"title":null},"y":{"field":"y","type":"quantitative","scale":{"domain":[0,1]}}}},
   {"transform":[{"filter":"datum.k=='t'"}],"mark":{"type":"text","style":"big"},"encoding":{"x":{"field":"x","type":"quantitative","scale":{"domain":[1.5,8],"nice":false},"title":null},"y":{"field":"y","type":"quantitative","scale":{"domain":[0,1]}},"text":{"field":"t"},"color":{"field":"g","type":"nominal","scale":{"domain":["IFw","IFn","OF"],"range":["#e41f2b","#1b8fd6","#5a5a5a"]},"legend":null}}},
   {"transform":[{"filter":"datum.k=='t' && isValid(datum.s)"}],"mark":{"type":"text","style":"sub"},"encoding":{"x":{"field":"x","type":"quantitative","scale":{"domain":[1.5,8],"nice":false},"title":null},"y":{"field":"y","type":"quantitative","scale":{"domain":[0,1]}},"text":{"field":"s"},"color":{"field":"g","type":"nominal","scale":{"domain":["IFw","IFn","OF"],"range":["#e41f2b","#1b8fd6","#5a5a5a"]},"legend":null}}},
   {"data":{"values":[{"p":"B2a"}]},"mark":{"type":"text","style":"pr","text":"P(r)","angle":90},"encoding":{"x":{"datum":8.52,"type":"quantitative"},"y":{"datum":0,"type":"quantitative"}}}
  ]},
 {"width":263,"height":87.5,"transform":[{"filter":"datum.p=='A2b'"}],
  "layer":[
   {"transform":[{"filter":"datum.k=='b'"}],"mark":{"type":"rect","blend":"multiply"},"encoding":{"x":{"field":"x","type":"quantitative","scale":{"domain":[1.5,8],"nice":false},"title":null},"x2":{"field":"x2"},"y":{"datum":0,"type":"quantitative","scale":{"domain":[0,1]}},"y2":{"datum":1},"fill":{"field":"g","type":"nominal","scale":{"domain":["IFw","IFn","OF"],"range":["#f7cbcf","#c8e4f3","#d3d3d3"]},"legend":null}}},
   {"transform":[{"filter":"datum.k=='c' && isValid(datum.hi)"}],"mark":{"type":"area","color":"#d2d2d2","blend":"multiply","interpolate":"monotone"},"encoding":{"x":{"field":"x","type":"quantitative","scale":{"domain":[1.5,8],"nice":false},"title":null},"y":{"field":"lo","type":"quantitative","scale":{"domain":[0,1]}},"y2":{"field":"hi"}}},
   {"transform":[{"filter":"datum.k=='c'"}],"mark":{"type":"line","color":"#111111","strokeWidth":2.8,"interpolate":"monotone"},"encoding":{"x":{"field":"x","type":"quantitative","scale":{"domain":[1.5,8],"nice":false},"title":null},"y":{"field":"y","type":"quantitative","scale":{"domain":[0,1]}}}},
   {"transform":[{"filter":"datum.k=='t'"}],"mark":{"type":"text","style":"big"},"encoding":{"x":{"field":"x","type":"quantitative","scale":{"domain":[1.5,8],"nice":false},"title":null},"y":{"field":"y","type":"quantitative","scale":{"domain":[0,1]}},"text":{"field":"t"},"color":{"field":"g","type":"nominal","scale":{"domain":["IFw","IFn","OF"],"range":["#e41f2b","#1b8fd6","#5a5a5a"]},"legend":null}}}
  ]},
 {"width":263,"height":87.5,"transform":[{"filter":"datum.p=='B2b'"}],
  "layer":[
   {"transform":[{"filter":"datum.k=='b'"}],"mark":{"type":"rect","blend":"multiply"},"encoding":{"x":{"field":"x","type":"quantitative","scale":{"domain":[1.5,8],"nice":false},"title":null},"x2":{"field":"x2"},"y":{"datum":0,"type":"quantitative","scale":{"domain":[0,1]}},"y2":{"datum":1},"fill":{"field":"g","type":"nominal","scale":{"domain":["IFw","IFn","OF"],"range":["#f7cbcf","#c8e4f3","#d3d3d3"]},"legend":null}}},
   {"transform":[{"filter":"datum.k=='c' && isValid(datum.hi)"}],"mark":{"type":"area","color":"#d2d2d2","blend":"multiply","interpolate":"monotone"},"encoding":{"x":{"field":"x","type":"quantitative","scale":{"domain":[1.5,8],"nice":false},"title":null},"y":{"field":"lo","type":"quantitative","scale":{"domain":[0,1]}},"y2":{"field":"hi"}}},
   {"transform":[{"filter":"datum.k=='c'"}],"mark":{"type":"line","color":"#1a1a1a","strokeWidth":2.6,"interpolate":"monotone"},"encoding":{"x":{"field":"x","type":"quantitative","scale":{"domain":[1.5,8],"nice":false},"title":null},"y":{"field":"y","type":"quantitative","scale":{"domain":[0,1]}}}},
   {"transform":[{"filter":"datum.k=='t'"}],"mark":{"type":"text","style":"big"},"encoding":{"x":{"field":"x","type":"quantitative","scale":{"domain":[1.5,8],"nice":false},"title":null},"y":{"field":"y","type":"quantitative","scale":{"domain":[0,1]}},"text":{"field":"t"},"color":{"field":"g","type":"nominal","scale":{"domain":["IFw","IFn","OF"],"range":["#e41f2b","#1b8fd6","#5a5a5a"]},"legend":null}}}
  ]}
],"columns":2,"spacing":{"row":0,"column":110},"bounds":"flush"},
{"concat":[
 {"width":263,"height":87.5,"transform":[{"filter":"datum.p=='A3a'"}],
  "layer":[
   {"transform":[{"filter":"datum.k=='b'"}],"mark":{"type":"rect","blend":"multiply"},"encoding":{"x":{"field":"x","type":"quantitative","scale":{"domain":[1.5,8],"nice":false},"title":null},"x2":{"field":"x2"},"y":{"datum":0,"type":"quantitative","scale":{"domain":[0,1]}},"y2":{"datum":1},"fill":{"field":"g","type":"nominal","scale":{"domain":["IFw","IFn","OF"],"range":["#f7cbcf","#c8e4f3","#d3d3d3"]},"legend":null}}},
   {"transform":[{"filter":"datum.k=='c' && isValid(datum.hi)"}],"mark":{"type":"area","color":"#d2d2d2","blend":"multiply","interpolate":"monotone"},"encoding":{"x":{"field":"x","type":"quantitative","scale":{"domain":[1.5,8],"nice":false},"title":null},"y":{"field":"lo","type":"quantitative","scale":{"domain":[0,1]}},"y2":{"field":"hi"}}},
   {"transform":[{"filter":"datum.k=='c'"}],"mark":{"type":"line","color":"#ff0000","strokeWidth":2.8,"interpolate":"monotone"},"encoding":{"x":{"field":"x","type":"quantitative","scale":{"domain":[1.5,8],"nice":false},"title":null},"y":{"field":"y","type":"quantitative","scale":{"domain":[0,1]}}}},
   {"transform":[{"filter":"datum.k=='t'"}],"mark":{"type":"text","style":"big"},"encoding":{"x":{"field":"x","type":"quantitative","scale":{"domain":[1.5,8],"nice":false},"title":null},"y":{"field":"y","type":"quantitative","scale":{"domain":[0,1]}},"text":{"field":"t"},"color":{"field":"g","type":"nominal","scale":{"domain":["IFw","IFn","OF"],"range":["#e41f2b","#1b8fd6","#5a5a5a"]},"legend":null}}},
   {"transform":[{"filter":"datum.k=='t' && isValid(datum.s)"}],"mark":{"type":"text","style":"sub"},"encoding":{"x":{"field":"x","type":"quantitative","scale":{"domain":[1.5,8],"nice":false},"title":null},"y":{"field":"y","type":"quantitative","scale":{"domain":[0,1]}},"text":{"field":"s"},"color":{"field":"g","type":"nominal","scale":{"domain":["IFw","IFn","OF"],"range":["#e41f2b","#1b8fd6","#5a5a5a"]},"legend":null}}},
   {"data":{"values":[{"p":"A3a"}]},"mark":{"type":"text","style":"env","text":"ISOVs"},"encoding":{"x":{"datum":9.36,"type":"quantitative"},"y":{"datum":0,"type":"quantitative"}}},
   {"data":{"values":[{"p":"A3a"}]},"mark":{"type":"text","style":"pr","text":"P(r)","angle":270},"encoding":{"x":{"datum":1.055,"type":"quantitative"},"y":{"datum":0.05,"type":"quantitative"}}}
  ]},
 {"width":263,"height":87.5,"transform":[{"filter":"datum.p=='B3a'"}],
  "layer":[
   {"transform":[{"filter":"datum.k=='b'"}],"mark":{"type":"rect","blend":"multiply"},"encoding":{"x":{"field":"x","type":"quantitative","scale":{"domain":[1.5,8],"nice":false},"title":null},"x2":{"field":"x2"},"y":{"datum":0,"type":"quantitative","scale":{"domain":[0,1]}},"y2":{"datum":1},"fill":{"field":"g","type":"nominal","scale":{"domain":["IFw","IFn","OF"],"range":["#f7cbcf","#c8e4f3","#d3d3d3"]},"legend":null}}},
   {"transform":[{"filter":"datum.k=='c' && isValid(datum.hi)"}],"mark":{"type":"area","color":"#d2d2d2","blend":"multiply","interpolate":"monotone"},"encoding":{"x":{"field":"x","type":"quantitative","scale":{"domain":[1.5,8],"nice":false},"title":null},"y":{"field":"lo","type":"quantitative","scale":{"domain":[0,1]}},"y2":{"field":"hi"}}},
   {"transform":[{"filter":"datum.k=='c'"}],"mark":{"type":"line","color":"#ff0000","strokeWidth":2.8,"interpolate":"monotone"},"encoding":{"x":{"field":"x","type":"quantitative","scale":{"domain":[1.5,8],"nice":false},"title":null},"y":{"field":"y","type":"quantitative","scale":{"domain":[0,1]}}}},
   {"transform":[{"filter":"datum.k=='t'"}],"mark":{"type":"text","style":"big"},"encoding":{"x":{"field":"x","type":"quantitative","scale":{"domain":[1.5,8],"nice":false},"title":null},"y":{"field":"y","type":"quantitative","scale":{"domain":[0,1]}},"text":{"field":"t"},"color":{"field":"g","type":"nominal","scale":{"domain":["IFw","IFn","OF"],"range":["#e41f2b","#1b8fd6","#5a5a5a"]},"legend":null}}},
   {"transform":[{"filter":"datum.k=='t' && isValid(datum.s)"}],"mark":{"type":"text","style":"sub"},"encoding":{"x":{"field":"x","type":"quantitative","scale":{"domain":[1.5,8],"nice":false},"title":null},"y":{"field":"y","type":"quantitative","scale":{"domain":[0,1]}},"text":{"field":"s"},"color":{"field":"g","type":"nominal","scale":{"domain":["IFw","IFn","OF"],"range":["#e41f2b","#1b8fd6","#5a5a5a"]},"legend":null}}},
   {"data":{"values":[{"p":"B3a"}]},"mark":{"type":"text","style":"pr","text":"P(r)","angle":90},"encoding":{"x":{"datum":8.52,"type":"quantitative"},"y":{"datum":0,"type":"quantitative"}}}
  ]},
 {"width":263,"height":87.5,"transform":[{"filter":"datum.p=='A3b'"}],
  "layer":[
   {"transform":[{"filter":"datum.k=='b'"}],"mark":{"type":"rect","blend":"multiply"},"encoding":{"x":{"field":"x","type":"quantitative","scale":{"domain":[1.5,8],"nice":false},"title":null},"x2":{"field":"x2"},"y":{"datum":0,"type":"quantitative","scale":{"domain":[0,1]}},"y2":{"datum":1},"fill":{"field":"g","type":"nominal","scale":{"domain":["IFw","IFn","OF"],"range":["#f7cbcf","#c8e4f3","#d3d3d3"]},"legend":null}}},
   {"transform":[{"filter":"datum.k=='c' && isValid(datum.hi)"}],"mark":{"type":"area","color":"#d2d2d2","blend":"multiply","interpolate":"monotone"},"encoding":{"x":{"field":"x","type":"quantitative","scale":{"domain":[1.5,8],"nice":false},"title":null},"y":{"field":"lo","type":"quantitative","scale":{"domain":[0,1]}},"y2":{"field":"hi"}}},
   {"transform":[{"filter":"datum.k=='c'"}],"mark":{"type":"line","color":"#111111","strokeWidth":2.8,"interpolate":"monotone"},"encoding":{"x":{"field":"x","type":"quantitative","scale":{"domain":[1.5,8],"nice":false},"title":null},"y":{"field":"y","type":"quantitative","scale":{"domain":[0,1]}}}},
   {"transform":[{"filter":"datum.k=='t'"}],"mark":{"type":"text","style":"big"},"encoding":{"x":{"field":"x","type":"quantitative","scale":{"domain":[1.5,8],"nice":false},"title":null},"y":{"field":"y","type":"quantitative","scale":{"domain":[0,1]}},"text":{"field":"t"},"color":{"field":"g","type":"nominal","scale":{"domain":["IFw","IFn","OF"],"range":["#e41f2b","#1b8fd6","#5a5a5a"]},"legend":null}}}
  ]},
 {"width":263,"height":87.5,"transform":[{"filter":"datum.p=='B3b'"}],
  "layer":[
   {"transform":[{"filter":"datum.k=='b'"}],"mark":{"type":"rect","blend":"multiply"},"encoding":{"x":{"field":"x","type":"quantitative","scale":{"domain":[1.5,8],"nice":false},"title":null},"x2":{"field":"x2"},"y":{"datum":0,"type":"quantitative","scale":{"domain":[0,1]}},"y2":{"datum":1},"fill":{"field":"g","type":"nominal","scale":{"domain":["IFw","IFn","OF"],"range":["#f7cbcf","#c8e4f3","#d3d3d3"]},"legend":null}}},
   {"transform":[{"filter":"datum.k=='c' && isValid(datum.hi)"}],"mark":{"type":"area","color":"#d2d2d2","blend":"multiply","interpolate":"monotone"},"encoding":{"x":{"field":"x","type":"quantitative","scale":{"domain":[1.5,8],"nice":false},"title":null},"y":{"field":"lo","type":"quantitative","scale":{"domain":[0,1]}},"y2":{"field":"hi"}}},
   {"transform":[{"filter":"datum.k=='c'"}],"mark":{"type":"line","color":"#1a1a1a","strokeWidth":2.6,"interpolate":"monotone"},"encoding":{"x":{"field":"x","type":"quantitative","scale":{"domain":[1.5,8],"nice":false},"title":null},"y":{"field":"y","type":"quantitative","scale":{"domain":[0,1]}}}},
   {"transform":[{"filter":"datum.k=='t'"}],"mark":{"type":"text","style":"big"},"encoding":{"x":{"field":"x","type":"quantitative","scale":{"domain":[1.5,8],"nice":false},"title":null},"y":{"field":"y","type":"quantitative","scale":{"domain":[0,1]}},"text":{"field":"t"},"color":{"field":"g","type":"nominal","scale":{"domain":["IFw","IFn","OF"],"range":["#e41f2b","#1b8fd6","#5a5a5a"]},"legend":null}}}
  ]}
],"columns":2,"spacing":{"row":0,"column":110},"bounds":"flush"},
{"concat":[
 {"width":263,"height":87.5,"transform":[{"filter":"datum.p=='A4a'"}],
  "layer":[
   {"transform":[{"filter":"datum.k=='b'"}],"mark":{"type":"rect","blend":"multiply"},"encoding":{"x":{"field":"x","type":"quantitative","scale":{"domain":[1.5,8],"nice":false},"title":null},"x2":{"field":"x2"},"y":{"datum":0,"type":"quantitative","scale":{"domain":[0,1]}},"y2":{"datum":1},"fill":{"field":"g","type":"nominal","scale":{"domain":["IFw","IFn","OF"],"range":["#f7cbcf","#c8e4f3","#d3d3d3"]},"legend":null}}},
   {"transform":[{"filter":"datum.k=='c' && isValid(datum.hi)"}],"mark":{"type":"area","color":"#d2d2d2","blend":"multiply","interpolate":"monotone"},"encoding":{"x":{"field":"x","type":"quantitative","scale":{"domain":[1.5,8],"nice":false},"title":null},"y":{"field":"lo","type":"quantitative","scale":{"domain":[0,1]}},"y2":{"field":"hi"}}},
   {"transform":[{"filter":"datum.k=='c'"}],"mark":{"type":"line","color":"#ff0000","strokeWidth":2.8,"interpolate":"monotone"},"encoding":{"x":{"field":"x","type":"quantitative","scale":{"domain":[1.5,8],"nice":false},"title":null},"y":{"field":"y","type":"quantitative","scale":{"domain":[0,1]}}}},
   {"transform":[{"filter":"datum.k=='t'"}],"mark":{"type":"text","style":"big"},"encoding":{"x":{"field":"x","type":"quantitative","scale":{"domain":[1.5,8],"nice":false},"title":null},"y":{"field":"y","type":"quantitative","scale":{"domain":[0,1]}},"text":{"field":"t"},"color":{"field":"g","type":"nominal","scale":{"domain":["IFw","IFn","OF"],"range":["#e41f2b","#1b8fd6","#5a5a5a"]},"legend":null}}},
   {"transform":[{"filter":"datum.k=='t' && isValid(datum.s)"}],"mark":{"type":"text","style":"sub"},"encoding":{"x":{"field":"x","type":"quantitative","scale":{"domain":[1.5,8],"nice":false},"title":null},"y":{"field":"y","type":"quantitative","scale":{"domain":[0,1]}},"text":{"field":"s"},"color":{"field":"g","type":"nominal","scale":{"domain":["IFw","IFn","OF"],"range":["#e41f2b","#1b8fd6","#5a5a5a"]},"legend":null}}},
   {"data":{"values":[{"p":"A4a"}]},"mark":{"type":"text","style":"env","text":"Nanodiscs"},"encoding":{"x":{"datum":9.36,"type":"quantitative"},"y":{"datum":0,"type":"quantitative"}}},
   {"data":{"values":[{"p":"A4a"}]},"mark":{"type":"text","style":"pr","text":"P(r)","angle":270},"encoding":{"x":{"datum":1.055,"type":"quantitative"},"y":{"datum":0.05,"type":"quantitative"}}}
  ]},
 {"width":263,"height":87.5,"transform":[{"filter":"datum.p=='B4a'"}],
  "layer":[
   {"transform":[{"filter":"datum.k=='b'"}],"mark":{"type":"rect","blend":"multiply"},"encoding":{"x":{"field":"x","type":"quantitative","scale":{"domain":[1.5,8],"nice":false},"title":null},"x2":{"field":"x2"},"y":{"datum":0,"type":"quantitative","scale":{"domain":[0,1]}},"y2":{"datum":1},"fill":{"field":"g","type":"nominal","scale":{"domain":["IFw","IFn","OF"],"range":["#f7cbcf","#c8e4f3","#d3d3d3"]},"legend":null}}},
   {"transform":[{"filter":"datum.k=='c' && isValid(datum.hi)"}],"mark":{"type":"area","color":"#d2d2d2","blend":"multiply","interpolate":"monotone"},"encoding":{"x":{"field":"x","type":"quantitative","scale":{"domain":[1.5,8],"nice":false},"title":null},"y":{"field":"lo","type":"quantitative","scale":{"domain":[0,1]}},"y2":{"field":"hi"}}},
   {"transform":[{"filter":"datum.k=='c'"}],"mark":{"type":"line","color":"#ff0000","strokeWidth":2.8,"interpolate":"monotone"},"encoding":{"x":{"field":"x","type":"quantitative","scale":{"domain":[1.5,8],"nice":false},"title":null},"y":{"field":"y","type":"quantitative","scale":{"domain":[0,1]}}}},
   {"transform":[{"filter":"datum.k=='t'"}],"mark":{"type":"text","style":"big"},"encoding":{"x":{"field":"x","type":"quantitative","scale":{"domain":[1.5,8],"nice":false},"title":null},"y":{"field":"y","type":"quantitative","scale":{"domain":[0,1]}},"text":{"field":"t"},"color":{"field":"g","type":"nominal","scale":{"domain":["IFw","IFn","OF"],"range":["#e41f2b","#1b8fd6","#5a5a5a"]},"legend":null}}},
   {"transform":[{"filter":"datum.k=='t' && isValid(datum.s)"}],"mark":{"type":"text","style":"sub"},"encoding":{"x":{"field":"x","type":"quantitative","scale":{"domain":[1.5,8],"nice":false},"title":null},"y":{"field":"y","type":"quantitative","scale":{"domain":[0,1]}},"text":{"field":"s"},"color":{"field":"g","type":"nominal","scale":{"domain":["IFw","IFn","OF"],"range":["#e41f2b","#1b8fd6","#5a5a5a"]},"legend":null}}},
   {"data":{"values":[{"p":"B4a"}]},"mark":{"type":"text","style":"pr","text":"P(r)","angle":90},"encoding":{"x":{"datum":8.52,"type":"quantitative"},"y":{"datum":0,"type":"quantitative"}}}
  ]},
 {"width":263,"height":87.5,"transform":[{"filter":"datum.p=='A4b'"}],
  "layer":[
   {"transform":[{"filter":"datum.k=='b'"}],"mark":{"type":"rect","blend":"multiply"},"encoding":{"x":{"field":"x","type":"quantitative","scale":{"domain":[1.5,8],"nice":false},"title":"Distance (nm)","axis":{"labels":true}},"x2":{"field":"x2"},"y":{"datum":0,"type":"quantitative","scale":{"domain":[0,1]}},"y2":{"datum":1},"fill":{"field":"g","type":"nominal","scale":{"domain":["IFw","IFn","OF"],"range":["#f7cbcf","#c8e4f3","#d3d3d3"]},"legend":null}}},
   {"transform":[{"filter":"datum.k=='c' && isValid(datum.hi)"}],"mark":{"type":"area","color":"#d2d2d2","blend":"multiply","interpolate":"monotone"},"encoding":{"x":{"field":"x","type":"quantitative","scale":{"domain":[1.5,8],"nice":false},"title":"Distance (nm)","axis":{"labels":true}},"y":{"field":"lo","type":"quantitative","scale":{"domain":[0,1]}},"y2":{"field":"hi"}}},
   {"transform":[{"filter":"datum.k=='c'"}],"mark":{"type":"line","color":"#111111","strokeWidth":2.8,"interpolate":"monotone"},"encoding":{"x":{"field":"x","type":"quantitative","scale":{"domain":[1.5,8],"nice":false},"title":"Distance (nm)","axis":{"labels":true}},"y":{"field":"y","type":"quantitative","scale":{"domain":[0,1]}}}},
   {"transform":[{"filter":"datum.k=='t'"}],"mark":{"type":"text","style":"big"},"encoding":{"x":{"field":"x","type":"quantitative","scale":{"domain":[1.5,8],"nice":false},"title":"Distance (nm)","axis":{"labels":true}},"y":{"field":"y","type":"quantitative","scale":{"domain":[0,1]}},"text":{"field":"t"},"color":{"field":"g","type":"nominal","scale":{"domain":["IFw","IFn","OF"],"range":["#e41f2b","#1b8fd6","#5a5a5a"]},"legend":null}}}
  ]},
 {"width":263,"height":87.5,"transform":[{"filter":"datum.p=='B4b'"}],
  "layer":[
   {"transform":[{"filter":"datum.k=='b'"}],"mark":{"type":"rect","blend":"multiply"},"encoding":{"x":{"field":"x","type":"quantitative","scale":{"domain":[1.5,8],"nice":false},"title":"Distance (nm)","axis":{"labels":true}},"x2":{"field":"x2"},"y":{"datum":0,"type":"quantitative","scale":{"domain":[0,1]}},"y2":{"datum":1},"fill":{"field":"g","type":"nominal","scale":{"domain":["IFw","IFn","OF"],"range":["#f7cbcf","#c8e4f3","#d3d3d3"]},"legend":null}}},
   {"transform":[{"filter":"datum.k=='c' && isValid(datum.hi)"}],"mark":{"type":"area","color":"#d2d2d2","blend":"multiply","interpolate":"monotone"},"encoding":{"x":{"field":"x","type":"quantitative","scale":{"domain":[1.5,8],"nice":false},"title":"Distance (nm)","axis":{"labels":true}},"y":{"field":"lo","type":"quantitative","scale":{"domain":[0,1]}},"y2":{"field":"hi"}}},
   {"transform":[{"filter":"datum.k=='c'"}],"mark":{"type":"line","color":"#1a1a1a","strokeWidth":2.6,"interpolate":"monotone"},"encoding":{"x":{"field":"x","type":"quantitative","scale":{"domain":[1.5,8],"nice":false},"title":"Distance (nm)","axis":{"labels":true}},"y":{"field":"y","type":"quantitative","scale":{"domain":[0,1]}}}},
   {"transform":[{"filter":"datum.k=='t'"}],"mark":{"type":"text","style":"big"},"encoding":{"x":{"field":"x","type":"quantitative","scale":{"domain":[1.5,8],"nice":false},"title":"Distance (nm)","axis":{"labels":true}},"y":{"field":"y","type":"quantitative","scale":{"domain":[0,1]}},"text":{"field":"t"},"color":{"field":"g","type":"nominal","scale":{"domain":["IFw","IFn","OF"],"range":["#e41f2b","#1b8fd6","#5a5a5a"]},"legend":null}}}
  ]}
],"columns":2,"spacing":{"row":0,"column":110},"bounds":"flush"}
],
"spacing":12
}
